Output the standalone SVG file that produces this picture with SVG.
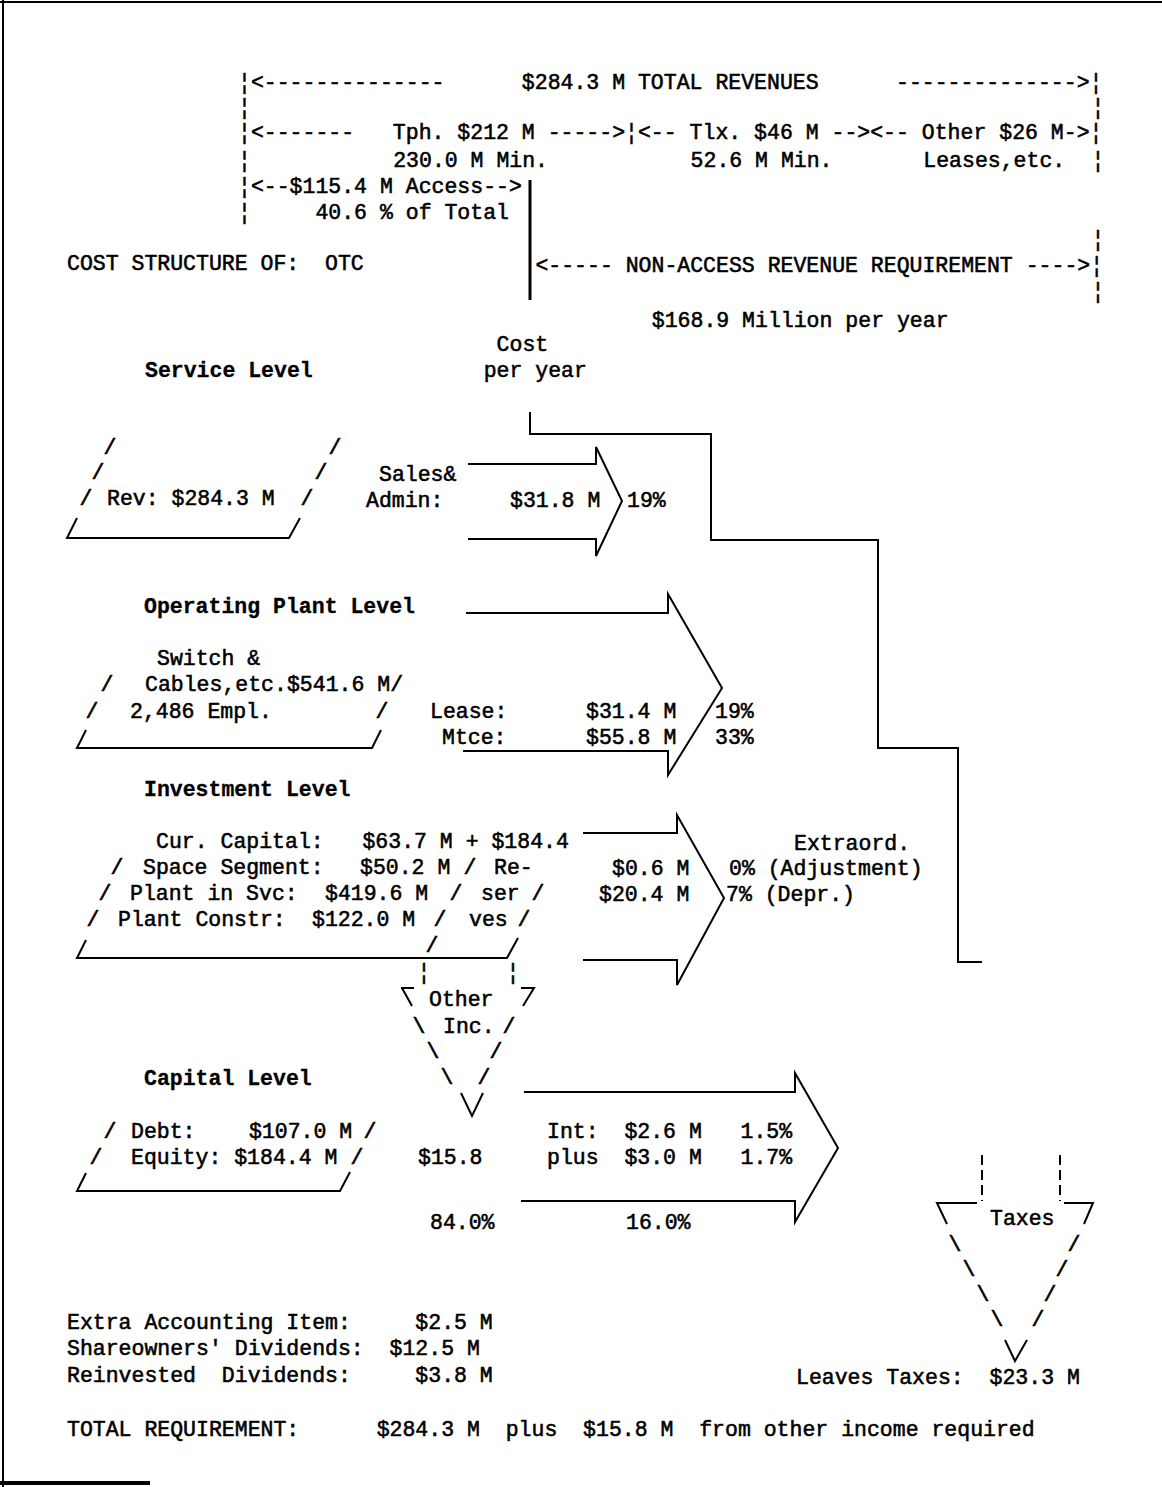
<svg xmlns="http://www.w3.org/2000/svg" width="1162" height="1487" viewBox="0 0 1162 1487" xml:space="preserve">
<style>
  .t { font-family: "Liberation Mono", "DejaVu Sans Mono", monospace; font-size: 21.5px; fill: #000; stroke: #000; stroke-width: 0.55px; white-space: pre; }
  .b { font-weight: bold; stroke-width: 0.3px; }
  .c { text-anchor: middle; }
  .ln { stroke: #000; stroke-width: 2; fill: none; stroke-linejoin: miter; }
  .thick { stroke: #000; stroke-width: 3; fill: none; }
  .dash { stroke: #000; stroke-width: 2; fill: none; stroke-dasharray: 10 5; }
</style>
<rect x="0" y="0" width="1162" height="1487" fill="#fff"/>
<!-- page frame -->
<path class="ln" d="M0,2 H1162 M3,0 V1487"/>
<path d="M0,1483 H150" stroke="#000" stroke-width="4"/>

<!-- revenue header -->
<g id="revenue-header">
  <text class="t" x="238" y="89">¦&lt;--------------      $284.3 M TOTAL REVENUES      -------------->¦</text>
  <text class="t" x="238" y="114">¦</text>
  <text class="t" x="1091.4" y="114">¦</text>
  <text class="t" x="238" y="139">¦&lt;-------   Tph. $212 M ----->¦&lt;-- Tlx. $46 M -->&lt;-- Other $26 M->¦</text>
  <text class="t" x="238" y="167">¦</text>
  <text class="t" x="393.2" y="167">230.0 M Min.</text>
  <text class="t" x="690.6" y="167">52.6 M Min.</text>
  <text class="t" x="923.3" y="167">Leases,etc.</text>
  <text class="t" x="1091.4" y="167">¦</text>
  <text class="t" x="238" y="193">¦&lt;--$115.4 M Access--></text>
  <text class="t" x="238" y="219">¦     40.6 % of Total</text>
  <path class="thick" d="M530,180 V300"/>
  <text class="t" x="1091.4" y="246">¦</text>
  <text class="t" x="535.4" y="272">&lt;----- NON-ACCESS REVENUE REQUIREMENT ---->¦</text>
  <text class="t" x="1091.4" y="298">¦</text>
  <text class="t" x="651.8" y="327">$168.9 Million per year</text>
  <text class="t" x="67" y="270">COST STRUCTURE OF:  OTC</text>
  <text class="t" x="496.6" y="351">Cost</text>
  <text class="t" x="483.7" y="377">per year</text>
</g>

<!-- service level -->
<g id="service-level">
  <text class="t b" x="145" y="377">Service Level</text>
  <text class="t c" x="110" y="454">/</text>
  <text class="t c" x="335" y="454">/</text>
  <text class="t c" x="98" y="479">/</text>
  <text class="t c" x="321" y="479">/</text>
  <text class="t c" x="86" y="505">/</text>
  <text class="t" x="107" y="505">Rev: $284.3 M</text>
  <text class="t c" x="307" y="505">/</text>
  <path class="ln" d="M77,518 L67,538 H289 L300,518"/>
</g>

<g id="sales-admin">
  <path class="ln" d="M468,464 H596 V447 L622,501 L596,556 V539 H468"/>
  <text class="t" x="379" y="481">Sales&amp;</text>
  <text class="t" x="366" y="507">Admin:</text>
  <text class="t" x="510" y="507">$31.8 M</text>
  <text class="t" x="627" y="507">19%</text>
</g>

<!-- operating plant level -->
<g id="operating-plant">
  <text class="t b" x="144" y="613">Operating Plant Level</text>
  <text class="t" x="157" y="665">Switch &amp;</text>
  <text class="t c" x="107" y="691">/</text>
  <text class="t" x="145" y="691">Cables,etc.$541.6 M/</text>
  <text class="t c" x="92" y="718">/</text>
  <text class="t" x="130" y="718">2,486 Empl.</text>
  <text class="t c" x="382" y="718">/</text>
  <path class="ln" d="M86,730 L77,748 H372 L381,730"/>
</g>

<g id="lease-maintenance">
  <path class="ln" d="M466,613 H668 V594 L722,688 L668,775 V751 H463"/>
  <text class="t" x="430" y="718">Lease:</text>
  <text class="t" x="586" y="718">$31.4 M</text>
  <text class="t" x="715" y="718">19%</text>
  <text class="t" x="442" y="744">Mtce:</text>
  <text class="t" x="586" y="744">$55.8 M</text>
  <text class="t" x="715" y="744">33%</text>
</g>

<!-- investment level -->
<g id="investment">
  <text class="t b" x="144" y="796">Investment Level</text>
  <text class="t" x="156" y="848">Cur. Capital:   $63.7 M + $184.4</text>
  <text class="t c" x="117" y="874">/</text>
  <text class="t" x="143" y="874">Space Segment:</text>
  <text class="t" x="360" y="874">$50.2 M</text>
  <text class="t c" x="470" y="874">/</text>
  <text class="t" x="494" y="874">Re-</text>
  <text class="t c" x="105" y="900">/</text>
  <text class="t" x="130" y="900">Plant in Svc:</text>
  <text class="t" x="325" y="900">$419.6 M</text>
  <text class="t c" x="456" y="900">/</text>
  <text class="t" x="481" y="900">ser</text>
  <text class="t c" x="538" y="900">/</text>
  <text class="t c" x="93" y="926">/</text>
  <text class="t" x="118" y="926">Plant Constr:</text>
  <text class="t" x="312" y="926">$122.0 M</text>
  <text class="t c" x="440" y="926">/</text>
  <text class="t" x="469" y="926">ves</text>
  <text class="t c" x="524" y="926">/</text>
  <text class="t c" x="432" y="952">/</text>
  <path class="ln" d="M86,940 L77,958 H507 L518,938"/>
</g>

<g id="depreciation">
  <path class="ln" d="M583,833 H677 V815 L724,898 L677,985 V960 H583"/>
  <text class="t" x="794" y="850">Extraord.</text>
  <text class="t" x="612" y="875">$0.6 M</text>
  <text class="t" x="729" y="875">0% (Adjustment)</text>
  <text class="t" x="599" y="901">$20.4 M</text>
  <text class="t" x="726" y="901">7% (Depr.)</text>
</g>

<!-- other income funnel -->
<g id="other-income">
  <text class="t c" x="424" y="979">¦</text>
  <text class="t c" x="513" y="979">¦</text>
  <path class="ln" d="M401,988 H414 M402,988 L412,1006 M521,988 H534 L523,1006"/>
  <text class="t" x="429" y="1006">Other</text>
  <text class="t c" x="419" y="1033">\</text>
  <text class="t" x="443" y="1033">Inc.</text>
  <text class="t c" x="509" y="1033">/</text>
  <text class="t c" x="433" y="1058">\</text>
  <text class="t c" x="496" y="1058">/</text>
  <text class="t c" x="447" y="1084">\</text>
  <text class="t c" x="484" y="1084">/</text>
  <path class="ln" d="M461,1093 L472,1116 L483,1093"/>
  <text class="t" x="418" y="1164">$15.8</text>
  <text class="t" x="430" y="1229">84.0%</text>
</g>

<!-- capital level -->
<g id="capital">
  <text class="t b" x="144" y="1085">Capital Level</text>
  <text class="t c" x="110" y="1138">/</text>
  <text class="t" x="131" y="1138">Debt:</text>
  <text class="t" x="249" y="1138">$107.0 M</text>
  <text class="t c" x="370" y="1138">/</text>
  <text class="t c" x="96" y="1164">/</text>
  <text class="t" x="131" y="1164">Equity: $184.4 M</text>
  <text class="t c" x="357" y="1164">/</text>
  <path class="ln" d="M86,1173 L77,1191 H340 L350,1172"/>
</g>

<g id="interest">
  <path class="ln" d="M524,1092 H795 V1073 L838,1148 L795,1222 V1201 H521"/>
  <text class="t" x="547" y="1138">Int:  $2.6 M   1.5%</text>
  <text class="t" x="547" y="1164">plus  $3.0 M   1.7%</text>
  <text class="t" x="626" y="1229">16.0%</text>
</g>

<!-- taxes funnel -->
<g id="taxes">
  <path class="dash" d="M982,1155 V1201 M1060,1155 V1201"/>
  <path class="ln" d="M977,1203 H937 L947,1224 M1064,1203 H1093 L1084,1224"/>
  <text class="t" x="990" y="1225">Taxes</text>
  <text class="t c" x="955" y="1251">\</text>
  <text class="t c" x="969" y="1276">\</text>
  <text class="t c" x="983" y="1301">\</text>
  <text class="t c" x="997" y="1326">\</text>
  <text class="t c" x="1074" y="1251">/</text>
  <text class="t c" x="1062" y="1276">/</text>
  <text class="t c" x="1050" y="1301">/</text>
  <text class="t c" x="1038" y="1326">/</text>
  <path class="ln" d="M1005,1340 L1015,1361 L1027,1340"/>
  <text class="t" x="796" y="1384">Leaves Taxes:  $23.3 M</text>
</g>

<!-- totals -->
<g id="totals">
  <text class="t" x="67" y="1329">Extra Accounting Item:     $2.5 M</text>
  <text class="t" x="67" y="1355">Shareowners' Dividends:  $12.5 M</text>
  <text class="t" x="67" y="1382">Reinvested  Dividends:     $3.8 M</text>
  <text class="t" x="67" y="1436">TOTAL REQUIREMENT:      $284.3 M  plus  $15.8 M  from other income required</text>
</g>

<!-- cost flow connector -->
<g id="connectors">
  <path class="ln" d="M530,412 V434 H711 V540 H878 V748 H958 V962 H982"/>
</g>
</svg>
